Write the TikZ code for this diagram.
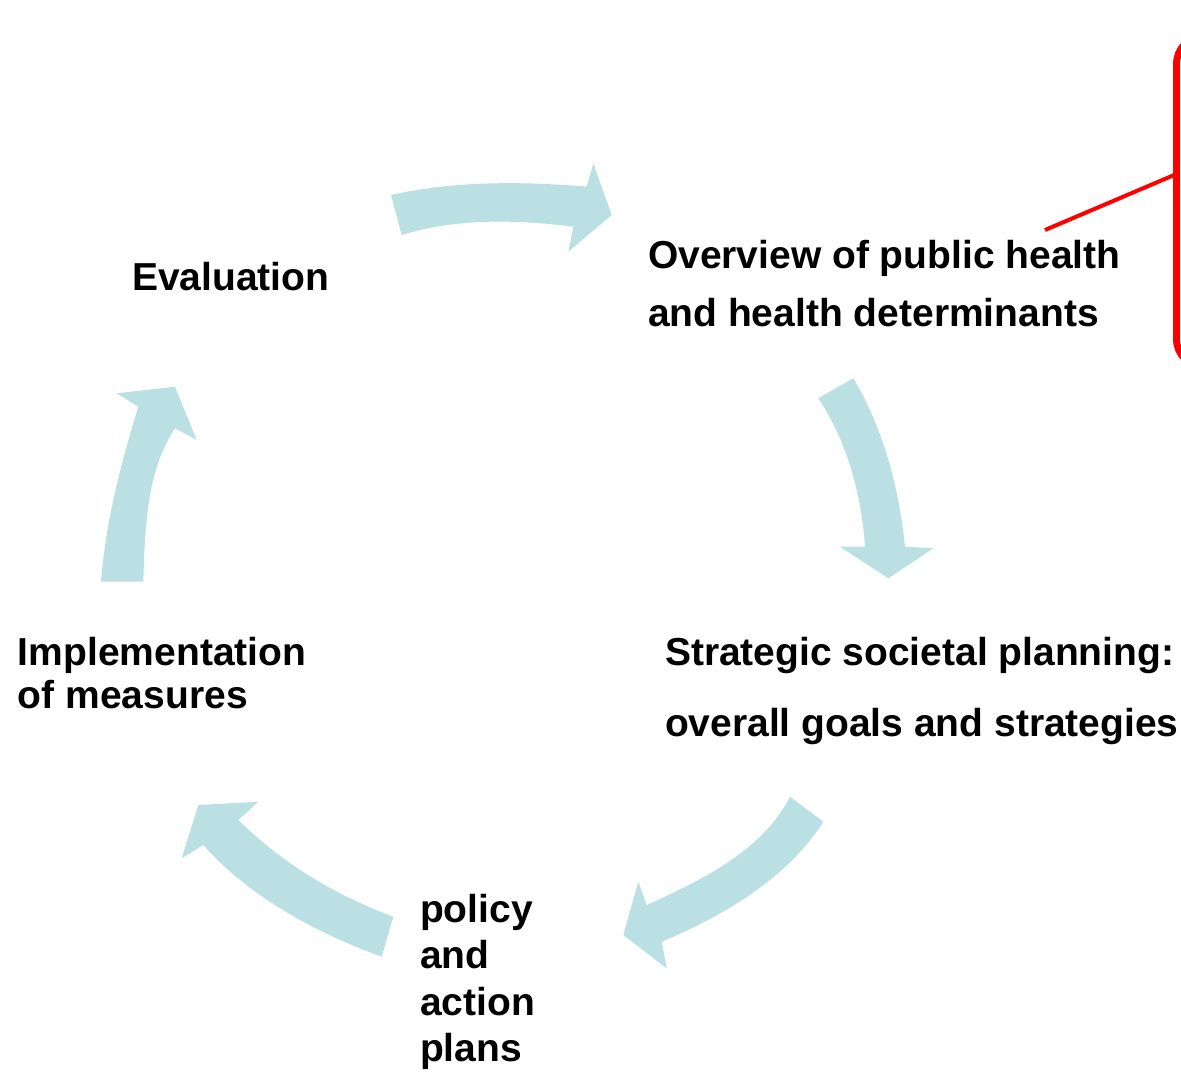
\documentclass[tikz,border=0pt]{standalone}
\usepackage{fontspec}
\setmainfont{Liberation Sans}
\usetikzlibrary{calc}
\definecolor{arrowblue}{RGB}{187,224,228}
\newcommand\mylines[2]{\fontsize{19.5}{#1}\selectfont\begin{tabular}[t]{@{}l@{}}#2\end{tabular}}
\begin{document}
\begin{tikzpicture}[x=0.5pt,y=-0.5pt,
  lbl/.style={font=\bfseries, inner sep=0pt, outer sep=0pt, anchor=base west},
  cyc/.style={fill=arrowblue, draw=none},
  notebox/.style={draw=red, line width=3.5pt, rounded corners=14pt, anchor=north west,
    minimum width=60pt, minimum height=165.5pt, inner sep=0pt, outer sep=0pt},
  pointer/.style={draw=red, line width=2pt}]
\fill[white] (0,0) rectangle (1181,1072);
\clip (0,0) rectangle (1181,1072);

% cycle arrows
% top
\fill[cyc] (391,195) .. controls (454.4,180.8) and (522,181.2) .. (586.7,186.7)
  -- (593.3,163.3) -- (611.7,215) -- (568.3,251.7) -- (573.3,226.7)
  .. controls (516.8,219.5) and (456.1,218.1) .. (401.7,235) -- cycle;
% right
\fill[cyc] (818.3,398.3) -- (853.3,378.3)
  .. controls (883.6,428.9) and (898.9,488) .. (905,546.7)
  -- (933.3,548.3) -- (888.3,578.3) -- (840,546.7) -- (865,546.7)
  .. controls (861.5,494.8) and (847.2,441.5) .. (818.3,398.3) -- cycle;
% bottom right
\fill[cyc] (790,796.7) -- (823.3,821.7)
  .. controls (787.5,878.3) and (723.5,915.8) .. (661.7,941.7)
  -- (666.7,968.3) -- (623.3,935) -- (638.3,881.7) -- (646.7,905)
  .. controls (701.4,880.2) and (763.1,850.3) .. (790,796.7) -- cycle;
% bottom left
\fill[cyc] (393.3,916.7) -- (381.7,956.7)
  .. controls (315.9,932.8) and (249.9,897.3) .. (203.3,845)
  -- (181.7,858.3) -- (198.3,805) -- (258.3,801.7) -- (238.3,820)
  .. controls (283,864) and (337,896) .. (393.3,916.7) -- cycle;
% left
\fill[cyc] (100,581.7) -- (143.3,581.7)
  .. controls (145,529.7) and (146.1,471.5) .. (175,428.3)
  -- (196.7,440) -- (175,386.7) -- (116.7,393.3) -- (138.3,406.7)
  .. controls (120.8,464.1) and (105.6,521.9) .. (101,581.7) -- cycle;

% labels
\node[lbl] (eval) at (132,290) {\mylines{29}{Evaluation}};
\node[lbl] (overview) at (648,268) {\mylines{29}{Overview of public health\\and health determinants}};
\node[lbl] (strategic) at (665,665) {\mylines{35.5}{Strategic societal planning:\\overall goals and strategies}};
\node[lbl] (impl) at (18,665) {\mylines{21.5}{Implementation\\of measures}};
\node[lbl] (policy) at (420,922) {\mylines{23.25}{policy\\and\\action\\plans}};

% red note box and pointer
\node[notebox] (note) at (1176.5,36) {};
\coordinate (ptr) at (1045,230);
\draw[pointer] (ptr) -- ($(note.north west)+(0,138)$);
\end{tikzpicture}
\end{document}
